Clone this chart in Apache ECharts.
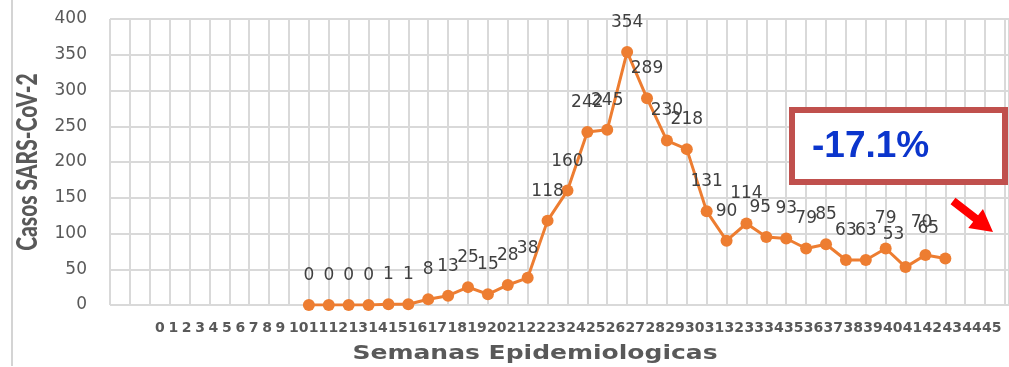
<!DOCTYPE html>
<html>
<head>
<meta charset="utf-8">
<title>Casos SARS-CoV-2 por semana epidemiológica</title>
<script src="https://cdn.jsdelivr.net/npm/echarts@6/dist/echarts.min.js"></script>
<style>
  html, body { margin: 0; padding: 0; background: #ffffff; }
  #chart { width: 1009px; height: 367px; }
</style>
</head>
<body>
<div id="chart"></div>
<script>
// Week tick labels printed under the plot
const weekTicks = ['0','1','2','3','4','5','6','7','8','9','10','11','12','13','14','15','16','17','18','19','20','21','22','23','24','25','26','27','28','29','30','31','32','33','34','35','36','37','38','39','40','41','42','43','44','45'];

// Epidemiological weeks with reported cases
const weeks = [10,11,12,13,14,15,16,17,18,19,20,21,22,23,24,25,26,27,28,29,30,31,32,33,34,35,36,37,38,39,40,41,42];
const cases = [0,0,0,0,1,1,8,13,25,15,28,38,118,160,242,245,354,289,230,218,131,90,114,95,93,79,85,63,63,79,53,70,65];

// Value-axis range
const yMin = 0;
const yMax = 400;
const yStep = 50;

// Variation callout
const changeText = '-17.1%';

// Small label shifts where neighbouring labels crowd each other
const labelNudge = { 33: [-6, 0], 40: [-12, -3], 41: [-4, -3], 42: [-17, 0] };

const GRID_LEFT = 110;
const GRID_TOP = 19;
const GRID_BOTTOM = 62;
const AXIS_GRAY = '#595959';
const LINE_COLOR = '#ED7D31';

const seriesData = weeks.map((w, i) => {
  const item = { value: [w, cases[i]] };
  if (labelNudge[w]) item.label = { offset: labelNudge[w] };
  return item;
});

// Week labels laid out as one continuous run beneath the axis
const tickTexts = [];
let cursor = 155;
weekTicks.forEach(t => {
  tickTexts.push({
    type: 'text',
    x: cursor,
    y: 328,
    silent: true,
    style: {
      text: t,
      fill: AXIS_GRAY,
      font: 'bold 14px "DejaVu Sans"',
      textAlign: 'left', align: 'left',
      textVerticalAlign: 'middle', verticalAlign: 'middle'
    }
  });
  cursor += t.length === 1 ? 13.4 : 19.8;
});

// Callout arrow, pointing down and to the right
const tail = [953, 201], tip = [993, 232];
const dx = tip[0] - tail[0], dy = tip[1] - tail[1];
const len = Math.hypot(dx, dy);
const u = [dx / len, dy / len], n = [-u[1], u[0]];
const headLen = 22, shaftHalf = 4, headHalf = 12;
const base = [tip[0] - headLen * u[0], tip[1] - headLen * u[1]];
const pt = (p, k) => [p[0] + k * n[0], p[1] + k * n[1]];
const arrowPoints = [
  pt(tail, -shaftHalf), pt(base, -shaftHalf), pt(base, -headHalf), tip,
  pt(base, headHalf), pt(base, shaftHalf), pt(tail, shaftHalf)
];

const chart = echarts.init(document.getElementById('chart'), null, { renderer: 'canvas' });

chart.setOption({
  animation: false,
  backgroundColor: '#ffffff',
  grid: { left: GRID_LEFT, right: -10, top: GRID_TOP, bottom: GRID_BOTTOM, containLabel: false },
  xAxis: {
    type: 'value',
    min: 0,
    max: 45.2,
    interval: 1,
    axisLine: { show: false },
    axisTick: { show: false },
    axisLabel: { show: false },
    splitLine: { show: true, lineStyle: { color: '#d9d9d9', width: 2 } }
  },
  yAxis: {
    type: 'value',
    min: yMin,
    max: yMax,
    interval: yStep,
    axisLine: { show: false },
    axisTick: { show: false },
    axisLabel: {
      margin: 23,
      color: AXIS_GRAY,
      fontSize: 17,
      fontFamily: 'DejaVu Sans'
    },
    splitLine: { show: true, lineStyle: { color: '#d9d9d9', width: 2 } }
  },
  series: [{
    type: 'line',
    data: seriesData,
    symbol: 'circle',
    symbolSize: 12,
    lineStyle: { color: LINE_COLOR, width: 3 },
    itemStyle: { color: LINE_COLOR },
    label: {
      show: true,
      position: 'top',
      distance: 15,
      color: '#404040',
      fontSize: 17,
      fontFamily: 'DejaVu Sans',
      formatter: p => String(p.value[1])
    },
    z: 3
  }],
  graphic: [
    // thin frame line on the left
    {
      type: 'rect',
      z: 50,
      silent: true,
      shape: { x: 11, y: 0, width: 2, height: 366 },
      style: { fill: '#d4d4d4' }
    },
    ...tickTexts,
    // x axis title
    {
      type: 'text',
      x: 535, y: 354,
      scaleX: 1.25,
      silent: true,
      style: {
        text: 'Semanas Epidemiologicas',
        fill: AXIS_GRAY,
        font: 'bold 20px "DejaVu Sans"',
        textAlign: 'center', align: 'center',
        textVerticalAlign: 'middle', verticalAlign: 'middle'
      }
    },
    // y axis title
    {
      type: 'text',
      x: 28, y: 162,
      rotation: Math.PI / 2,
      scaleY: 1.35,
      silent: true,
      style: {
        text: 'Casos SARS-CoV-2',
        fill: AXIS_GRAY,
        font: '900 21px Lato',
        textAlign: 'center', align: 'center',
        textVerticalAlign: 'middle', verticalAlign: 'middle'
      }
    },
    // variation box
    {
      type: 'rect',
      z: 100,
      silent: true,
      shape: { x: 792, y: 110, width: 213, height: 72 },
      style: { fill: '#ffffff', stroke: '#C0504D', lineWidth: 6 }
    },
    {
      type: 'text',
      z: 101,
      x: 812, y: 147,
      silent: true,
      style: {
        text: changeText,
        fill: '#0B35CC',
        font: 'bold 37px "Liberation Sans"',
        textAlign: 'left', align: 'left',
        textVerticalAlign: 'middle', verticalAlign: 'middle'
      }
    },
    {
      type: 'polygon',
      z: 100,
      silent: true,
      shape: { points: arrowPoints },
      style: { fill: '#FF0000' }
    }
  ]
});
</script>
</body>
</html>
